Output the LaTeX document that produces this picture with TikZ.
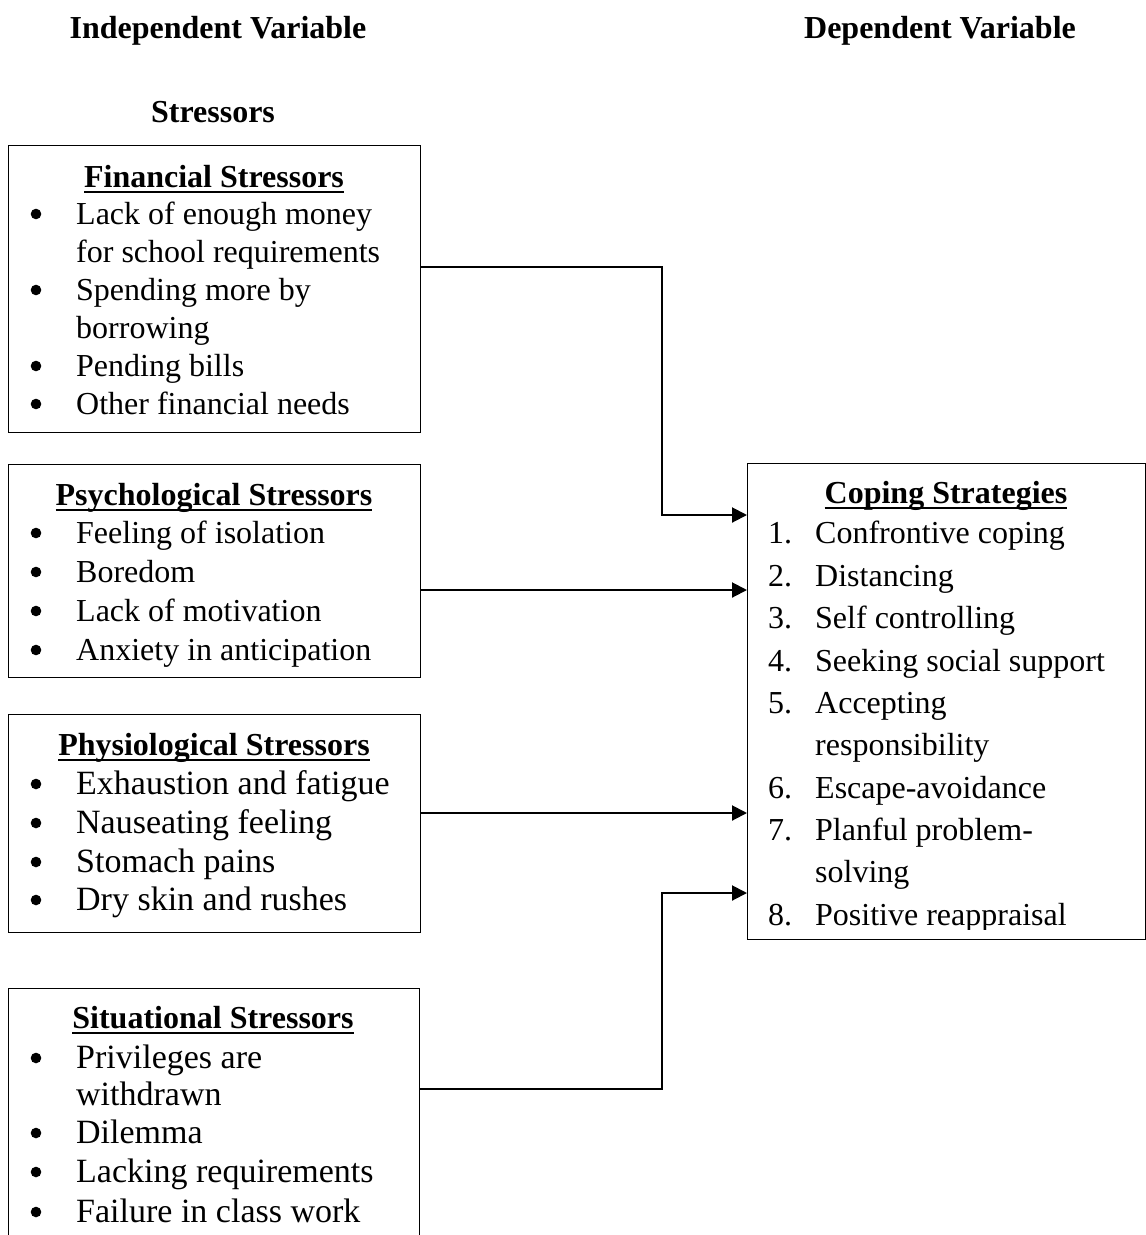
\documentclass[tikz,border=0pt]{standalone}
\usepackage{fontspec}
\setmainfont{Liberation Serif}
\usetikzlibrary{arrows.meta}
\newsavebox\myulbox
\newcommand\myul[1]{\sbox\myulbox{#1}\rlap{\rule[-6pt]{\wd\myulbox}{2.4pt}}\usebox\myulbox}
\begin{document}
\begin{tikzpicture}[x=1pt,y=-1pt,
 box/.style={draw, line width=1.4pt, inner sep=0pt, anchor=north west},
 hd/.style={font=\bfseries\fontsize{32}{38}\selectfont, anchor=base, inner sep=0pt},
 tx/.style={font=\fontsize{32}{38}\selectfont, anchor=base west, inner sep=0pt},
 tc/.style={font=\fontsize{34}{40}\selectfont, anchor=base west, inner sep=0pt},
 conn/.style={line width=2pt},
 arr/.style={conn, -{Triangle[length=15pt,width=15pt]}}]
\clip (0,0) rectangle (1146,1235);
\fill[white] (0,0) rectangle (1146,1235);

% headers
\node[hd] (iv) at (218,38) {Independent Variable};
\node[hd] (dv) at (940,38) {Dependent Variable};
\node[hd] (st) at (213,122) {Stressors};

% boxes
\node[box, minimum width=412pt, minimum height=287pt] (fin) at (8,145) {};
\node[box, minimum width=412pt, minimum height=213pt] (psy) at (8,464) {};
\node[box, minimum width=412pt, minimum height=218pt] (phy) at (8,714) {};
\node[box, minimum width=411pt, minimum height=300pt] (sit) at (8,988) {};
\node[box, minimum width=398pt, minimum height=476pt] (cop) at (747,463) {};

% Financial
\node[hd] (finh) at (214,187) {\myul{Financial Stressors}};
\node[tx] (fin1) at (76,224) {Lack of enough money};
\node[tx] (fin1b) at (76,262) {for school requirements};
\node[tx] (fin2) at (76,300) {Spending more by};
\node[tx] (fin2b) at (76,338) {borrowing};
\node[tx] (fin3) at (76,376) {Pending bills};
\node[tx] (fin4) at (76,414) {Other financial needs};
\foreach \y in {224,300,376,414} \fill (36,\y-10) circle (5.3pt);

% Psychological
\node[hd] (psyh) at (214,505) {\myul{Psychological Stressors}};
\node[tx] (psy1) at (76,543) {Feeling of isolation};
\node[tx] (psy2) at (76,582) {Boredom};
\node[tx] (psy3) at (76,621) {Lack of motivation};
\node[tx] (psy4) at (76,660) {Anxiety in anticipation};
\foreach \y in {543,582,621,660} \fill (36,\y-10) circle (5.3pt);

% Physiological
\node[hd] (phyh) at (214,755) {\myul{Physiological Stressors}};
\node[tc] (phy1) at (76,794) {Exhaustion and fatigue};
\node[tc] (phy2) at (76,833) {Nauseating feeling};
\node[tc] (phy3) at (76,872) {Stomach pains};
\node[tc] (phy4) at (76,910) {Dry skin and rushes};
\foreach \y in {794,833,872,910} \fill (36,\y-10) circle (5.3pt);

% Situational
\node[hd] (sith) at (213,1028) {\myul{Situational Stressors}};
\node[tc] (sit1) at (76,1068) {Privileges are};
\node[tc] (sit1b) at (76,1105) {withdrawn};
\node[tc] (sit2) at (76,1143) {Dilemma};
\node[tc] (sit3) at (76,1182) {Lacking requirements};
\node[tc] (sit4) at (76,1222) {Failure in class work};
\foreach \y in {1068,1143,1182,1222} \fill (36,\y-10) circle (5.3pt);

% Coping
\begin{scope}
\clip (747,463) rectangle (1145,929);
\node[hd] (coph) at (946,503) {\myul{Coping Strategies}};
\node[tx] (n1) at (768,543) {1.};  \node[tx] (c1) at (815,543) {Confrontive coping};
\node[tx] (n2) at (768,586) {2.};  \node[tx] (c2) at (815,586) {Distancing};
\node[tx] (n3) at (768,628) {3.};  \node[tx] (c3) at (815,628) {Self controlling};
\node[tx] (n4) at (768,671) {4.};  \node[tx] (c4) at (815,671) {Seeking social support};
\node[tx] (n5) at (768,713) {5.};  \node[tx] (c5) at (815,713) {Accepting};
\node[tx] (c5b) at (815,755) {responsibility};
\node[tx] (n6) at (768,798) {6.};  \node[tx] (c6) at (815,798) {Escape-avoidance};
\node[tx] (n7) at (768,840) {7.};  \node[tx] (c7) at (815,840) {Planful problem-};
\node[tx] (c7b) at (815,882) {solving};
\node[tx] (n8) at (768,925) {8.};  \node[tx] (c8) at (815,925) {Positive reappraisal};
\end{scope}

% connectors
\draw[arr] (fin.east |- 0,267) -- (662,267) -- (662,515) -- (cop.west |- 0,515);
\draw[arr] (psy.east |- 0,590) -- (cop.west |- 0,590);
\draw[arr] (phy.east |- 0,813) -- (cop.west |- 0,813);
\draw[arr] (sit.east |- 0,1089) -- (662,1089) -- (662,893) -- (cop.west |- 0,893);
\end{tikzpicture}
\end{document}
